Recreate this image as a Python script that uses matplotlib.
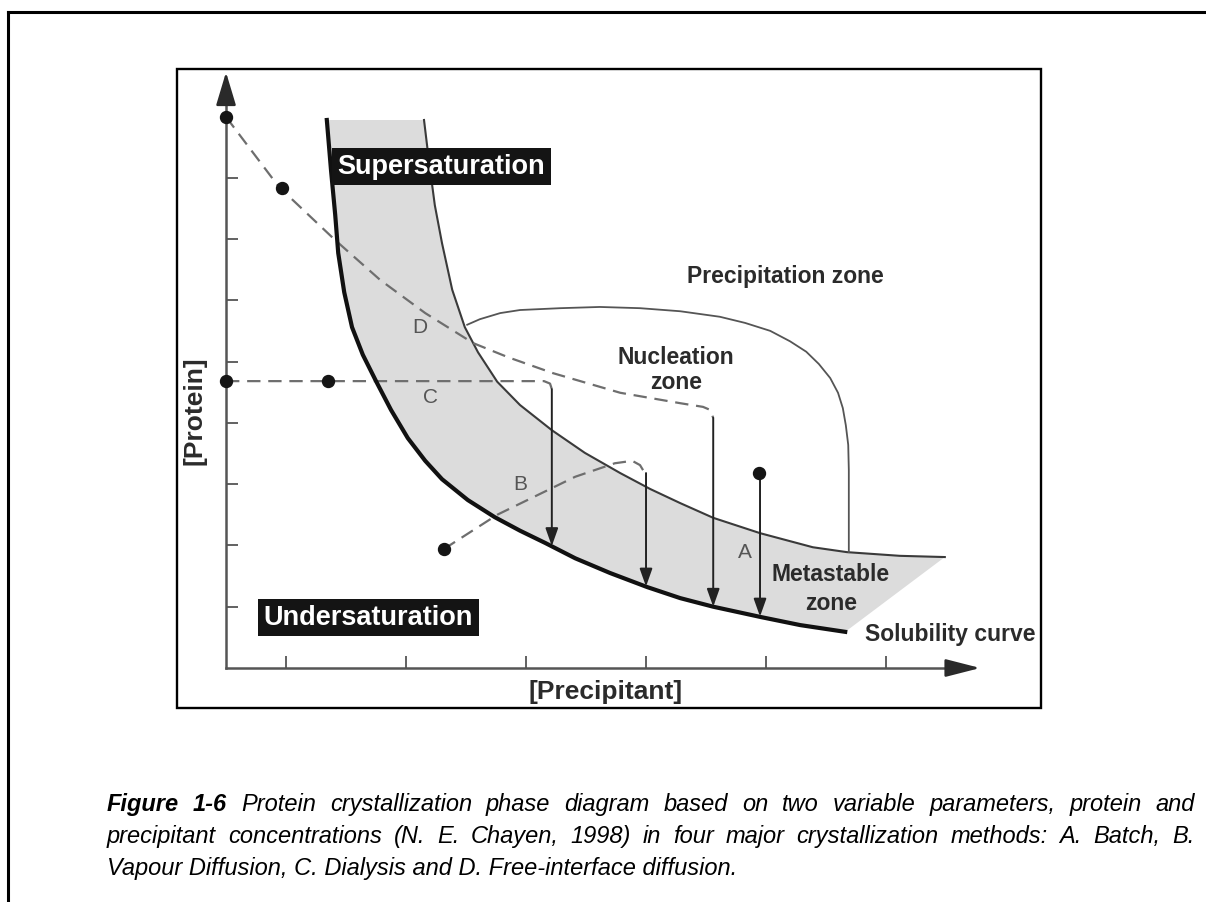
import numpy as np
import matplotlib
matplotlib.use('Agg')
import matplotlib.pyplot as plt
from matplotlib.patches import Rectangle

plt.rcParams['font.family'] = ['Liberation Sans', 'DejaVu Sans']

# ---- diagram data (schematic units: x = [Precipitant], y = [Protein]) ----
x_ticks = [1, 3, 5, 7, 9, 11]
y_ticks = [1, 2, 3, 4, 5, 6, 7, 8]

# solubility curve (thick, lower edge of the metastable band)
sol_x = [1.68, 1.75, 1.82, 1.87, 1.97, 2.10, 2.28, 2.50, 2.75, 3.03, 3.32, 3.60,
         4.03, 4.48, 4.90, 5.32, 5.82, 6.40, 7.02, 7.57, 8.12, 8.92, 9.57, 10.32]
sol_y = [8.94, 8.12, 7.39, 6.77, 6.13, 5.56, 5.11, 4.68, 4.21, 3.75, 3.38, 3.08,
         2.74, 2.46, 2.24, 2.04, 1.79, 1.55, 1.32, 1.14, 1.00, 0.83, 0.70, 0.59]

# supersolubility curve (thin, upper edge of the metastable band)
up_x = [3.30, 3.38, 3.48, 3.60, 3.77, 3.98, 4.20, 4.52, 4.90, 5.43, 5.98, 6.57,
        7.07, 7.57, 8.12, 8.90, 9.78, 10.35, 11.23, 11.98]
up_y = [8.94, 8.29, 7.55, 6.93, 6.17, 5.56, 5.15, 4.67, 4.29, 3.88, 3.51, 3.18,
        2.92, 2.69, 2.45, 2.20, 1.97, 1.89, 1.83, 1.81]

# boundary between nucleation and precipitation zones
pz_x = [4.02, 4.23, 4.57, 4.90, 5.57, 6.23, 6.90, 7.57, 8.23, 8.65, 9.07, 9.40,
        9.67, 9.88, 10.07, 10.20, 10.28, 10.33, 10.37, 10.38, 10.38]
pz_y = [5.60, 5.69, 5.79, 5.84, 5.87, 5.89, 5.87, 5.82, 5.73, 5.63, 5.50, 5.33,
        5.16, 4.96, 4.73, 4.49, 4.24, 3.96, 3.64, 3.23, 1.89]

# method paths (dashed part), then solid drop arrows
d_x = [0.0, 0.88, 1.82, 2.57, 3.32, 4.12, 4.70, 5.45, 6.57, 7.57, 7.95, 8.07, 8.12]
d_y = [8.99, 7.85, 6.98, 6.33, 5.79, 5.30, 5.07, 4.81, 4.49, 4.32, 4.26, 4.21, 4.08]
c_x = [0.0, 5.30, 5.40, 5.43]
c_y = [4.68, 4.68, 4.64, 4.55]
b_x = [3.63, 4.52, 5.82, 6.48, 6.77, 6.90, 6.98]
b_y = [1.94, 2.50, 3.12, 3.34, 3.38, 3.31, 3.18]

arrow_x = [8.90, 7.00, 5.43, 8.12]        # A, B, C, D
arrow_top = [3.18, 3.18, 4.55, 4.08]
arrow_tip = [0.84, 1.33, 1.99, 1.00]

dot_x = [0.0, 0.93, 0.0, 1.70, 3.63, 8.88]
dot_y = [8.99, 7.83, 4.68, 4.68, 1.94, 3.18]

letters = ['A', 'B', 'C', 'D']
letter_x = [8.65, 4.90, 3.40, 3.23]
letter_y = [1.88, 2.99, 4.42, 5.55]

caption = [
    [("Figure", "bold"), ("1-6", "bold")] + [(w, "normal") for w in
     "Protein crystallization phase diagram based on two variable parameters, protein and".split()],
    [(w, "normal") for w in
     "precipitant concentrations (N. E. Chayen, 1998) in four major crystallization methods: A. Batch, B.".split()],
    "Vapour Diffusion, C. Dialysis and D. Free-interface diffusion.",
]

fig = plt.figure(figsize=(12.06, 9.02), dpi=100)

# page frame + caption (pixel coordinates)
page = fig.add_axes([0, 0, 1, 1])
page.set_xlim(0, 1206)
page.set_ylim(902, 0)
page.axis('off')
page.plot([8, 8], [12, 902], color='k', lw=2.2, solid_capstyle='projecting')
page.plot([8, 1206], [12, 12], color='k', lw=2.2, solid_capstyle='projecting')

# ---- diagram ----
ax = fig.add_axes([177 / 1206, 194 / 902, 864 / 1206, 639 / 902])
ax.set_xlim(-0.817, 13.583)
ax.set_ylim(-0.6525, 9.772)
ax.add_patch(Rectangle((0, 0), 1, 1, transform=ax.transAxes, fill=False,
                       ec='black', lw=1.7, clip_on=False, zorder=10))
for s in ['top', 'right']:
    ax.spines[s].set_visible(False)
ax.spines['left'].set_position(('data', 0))
ax.spines['bottom'].set_position(('data', 0))
ax.spines['left'].set_bounds(0, 9.3)
ax.spines['bottom'].set_bounds(0, 12.2)
for s in ['left', 'bottom']:
    ax.spines[s].set_color('#555555')
    ax.spines[s].set_linewidth(1.8)
ax.set_xticks(x_ticks)
ax.set_yticks(y_ticks)
ax.tick_params(direction='in', length=8.6, width=1.3, color='#555555',
               labelbottom=False, labelleft=False)

ax.annotate('', xy=(0, 9.72), xytext=(0, 9.2),
            arrowprops=dict(arrowstyle='-|>,head_length=1.2,head_width=0.36',
                            mutation_scale=17, color='#2a2a2a', lw=1.8,
                            shrinkA=0, shrinkB=0))
ax.annotate('', xy=(12.57, 0), xytext=(12.1, 0),
            arrowprops=dict(arrowstyle='-|>,head_length=1.25,head_width=0.32',
                            mutation_scale=17, color='#2a2a2a', lw=1.8,
                            shrinkA=0, shrinkB=0))

# metastable band
ax.fill(np.concatenate([sol_x, up_x[::-1]]), np.concatenate([sol_y, up_y[::-1]]),
        color='#dcdcdc', lw=0, zorder=1)
ax.plot(sol_x, sol_y, color='#111111', lw=3.0, zorder=4)
ax.plot(up_x, up_y, color='#3a3a3a', lw=1.5, zorder=3)
ax.plot(pz_x, pz_y, color='#555555', lw=1.3, zorder=3)

for px, py in [(d_x, d_y), (c_x, c_y), (b_x, b_y)]:
    ax.plot(px, py, color='#6e6e6e', lw=1.6, dashes=(6, 3.5), zorder=3)

for xa, y0, y1 in zip(arrow_x, arrow_top, arrow_tip):
    ax.annotate('', xy=(xa, y1), xytext=(xa, y0),
                arrowprops=dict(arrowstyle='-|>,head_length=0.9,head_width=0.32',
                                mutation_scale=12, color='#222222', lw=1.4,
                                shrinkA=0, shrinkB=0), zorder=5)

ax.plot(dot_x, dot_y, 'o', ms=8.6, color='#151515', zorder=6, clip_on=False)

for t, lx, ly in zip(letters, letter_x, letter_y):
    ax.text(lx, ly, t, fontsize=15, color='#555555', ha='center', va='center', zorder=7)

box = dict(boxstyle='square,pad=0.2', fc='#141414', ec='none')
ax.text(3.59, 8.18, 'Supersaturation', fontsize=19.5, weight='bold', color='white',
        ha='center', va='center', bbox=box, zorder=8)
ax.text(2.375, 0.82, 'Undersaturation', fontsize=19.5, weight='bold', color='white',
        ha='center', va='center', bbox=box, zorder=8)

lab = dict(fontsize=16.5, weight='bold', color='#2b2b2b', ha='center', va='center', zorder=7)
ax.text(9.32, 6.38, 'Precipitation zone', **lab)
ax.text(7.50, 5.07, 'Nucleation', **lab)
ax.text(7.50, 4.65, 'zone', **lab)
ax.text(10.08, 1.53, 'Metastable', **lab)
ax.text(10.08, 1.06, 'zone', **lab)
ax.text(10.65, 0.54, 'Solubility curve', fontsize=16.5, weight='bold', color='#2b2b2b',
        ha='left', va='center', zorder=7)
ax.text(6.33, -0.39, '[Precipitant]', fontsize=19, weight='bold', color='#2b2b2b',
        ha='center', va='center')
ax.text(-0.52, 4.19, '[Protein]', fontsize=19, weight='bold', color='#2b2b2b',
        ha='center', va='center', rotation=90)

# ---- caption, justified ----
renderer = fig.canvas.get_renderer()
cap_left, cap_right = 107, 1195
cap_y = [811, 843, 875]
cap_size = 17
for words, yy in zip(caption, cap_y):
    if isinstance(words, str):
        page.text(cap_left, yy, words, fontsize=cap_size, style='italic',
                  ha='left', va='baseline')
        continue
    ts = [page.text(0, yy, w, fontsize=cap_size, style='italic', weight=wt,
                    ha='left', va='baseline') for w, wt in words]
    widths = [t.get_window_extent(renderer).width for t in ts]
    gap = (cap_right - cap_left - sum(widths)) / (len(ts) - 1)
    xx = cap_left
    for t, w in zip(ts, widths):
        t.set_x(xx)
        xx += w + gap

fig.savefig('out.png', dpi=100)
